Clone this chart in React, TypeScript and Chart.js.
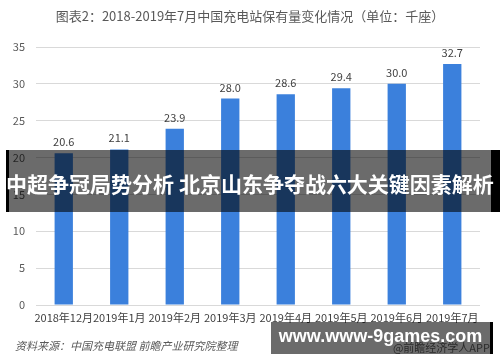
import React, { useEffect, useRef } from "react";
import { Chart, registerables } from "chart.js";

Chart.register(...registerables);

const categories = ["2018年12月", "2019年1月", "2019年2月", "2019年3月", "2019年4月", "2019年5月", "2019年6月", "2019年7月"];
const stationCounts = [20.6, 21.1, 23.9, 28.0, 28.6, 29.4, 30.0, 32.7];
const yTicks = [0, 5, 10, 15, 20, 25, 30, 35];
const titleText = "图表2：2018-2019年7月中国充电站保有量变化情况（单位：千座）";
const sourceText = "资料来源：中国充电联盟 前瞻产业研究院整理";
const bannerText = "中超争冠局势分析 北京山东争夺战六大关键因素解析";
const siteText = "www.www-9games.com";
const appText = "@前瞻经济学人APP";

const FONT = "'Noto Sans CJK SC', 'Noto Sans', sans-serif";

const valueLabels = {
  id: "valueLabels",
  afterDatasetsDraw(chart: any) {
    const ctx = chart.ctx;
    const meta = chart.getDatasetMeta(0);
    ctx.save();
    ctx.font = `11px ${FONT}`;
    ctx.fillStyle = "#404040";
    ctx.textAlign = "center";
    ctx.textBaseline = "alphabetic";
    meta.data.forEach((bar: any, i: number) => {
      const v = chart.data.datasets[0].data[i] as number;
      ctx.fillText(v.toFixed(1), bar.x, bar.y - 7);
    });
    ctx.restore();
  },
};

const centeredTitle = {
  id: "centeredTitle",
  afterDraw(chart: any) {
    const ctx = chart.ctx;
    ctx.save();
    ctx.font = `13px ${FONT}`;
    ctx.fillStyle = "#595959";
    ctx.textAlign = "center";
    ctx.textBaseline = "middle";
    ctx.fillText(titleText, chart.width / 2, 16);
    ctx.restore();
  },
};

export default function App() {
  const ref = useRef<HTMLCanvasElement>(null);
  useEffect(() => {
    if (!ref.current) return;
    const chart = new Chart(ref.current, {
      type: "bar",
      data: {
        labels: categories,
        datasets: [
          {
            data: stationCounts,
            backgroundColor: "#3b80dc",
            barPercentage: 0.33,
            categoryPercentage: 1,
          },
        ],
      },
      plugins: [valueLabels, centeredTitle],
      options: {
        animation: false,
        responsive: false,
        maintainAspectRatio: false,
        layout: { padding: { top: 47, right: 20, bottom: 32, left: 0 } },
        plugins: {
          legend: { display: false },
          tooltip: { enabled: false },
          title: { display: false },
        },
        scales: {
          x: {
            grid: { display: false, drawTicks: false },
            border: { display: false },
            ticks: { color: "#404040", font: { family: FONT, size: 11 }, padding: 6, maxRotation: 0, autoSkip: false },
            afterFit(scale: any) {
              scale.height = 25;
            },
          },
          y: {
            min: 0,
            max: 35,
            afterBuildTicks(scale: any) {
              scale.ticks = yTicks.map((v) => ({ value: v }));
            },
            grid: { color: "#d9d9d9", drawTicks: false },
            border: { display: false },
            ticks: { color: "#595959", font: { family: FONT, size: 11 }, padding: 11 },
            afterFit(scale: any) {
              scale.width = 36;
            },
          },
        },
      },
    });
    return () => chart.destroy();
  }, []);

  return (
    <div style={{ position: "absolute", left: 0, top: 0, width: 500, height: 362, background: "#fff", overflow: "hidden" }}>
      <canvas ref={ref} width={500} height={362} style={{ position: "absolute", left: 0, top: 0, width: 500, height: 362 }} />
      <div
        style={{
          position: "absolute",
          left: 15,
          top: 337,
          fontFamily: FONT,
          fontSize: 11,
          fontStyle: "italic",
          color: "#595959",
          lineHeight: "16px",
          whiteSpace: "nowrap",
        }}
      >
        {sourceText}
      </div>
      <div
        style={{
          position: "absolute",
          left: 6,
          top: 150,
          width: 494,
          height: 62,
          boxSizing: "border-box",
          background: "rgba(0,0,0,0.58)",
          borderLeft: "3px solid #000",
          borderRight: "9px solid #000",
        }}
      />
      <div
        style={{
          position: "absolute",
          left: 0,
          top: 169,
          width: 500,
          textAlign: "center",
          fontFamily: FONT,
          fontSize: 21,
          fontWeight: "bold",
          color: "#fff",
          lineHeight: "28px",
          whiteSpace: "nowrap",
        }}
      >
        {bannerText}
      </div>
      <div
        style={{
          position: "absolute",
          left: 271,
          top: 322,
          width: 222,
          height: 32,
          boxSizing: "border-box",
          background: "rgba(0,0,0,0.58)",
          borderRight: "3px solid #000",
        }}
      />
      <div
        style={{
          position: "absolute",
          left: 271,
          top: 325,
          width: 219,
          textAlign: "center",
          fontFamily: "'Liberation Sans', Arial, sans-serif",
          fontSize: 18,
          fontWeight: "bold",
          color: "#fff",
          lineHeight: "22px",
          whiteSpace: "nowrap",
        }}
      >
        {siteText}
      </div>
      <div
        style={{
          position: "absolute",
          right: 10,
          top: 340,
          fontFamily: FONT,
          fontSize: 11,
          color: "#2a2a2a",
          lineHeight: "14px",
          whiteSpace: "nowrap",
        }}
      >
        {appText}
      </div>
    </div>
  );
}
